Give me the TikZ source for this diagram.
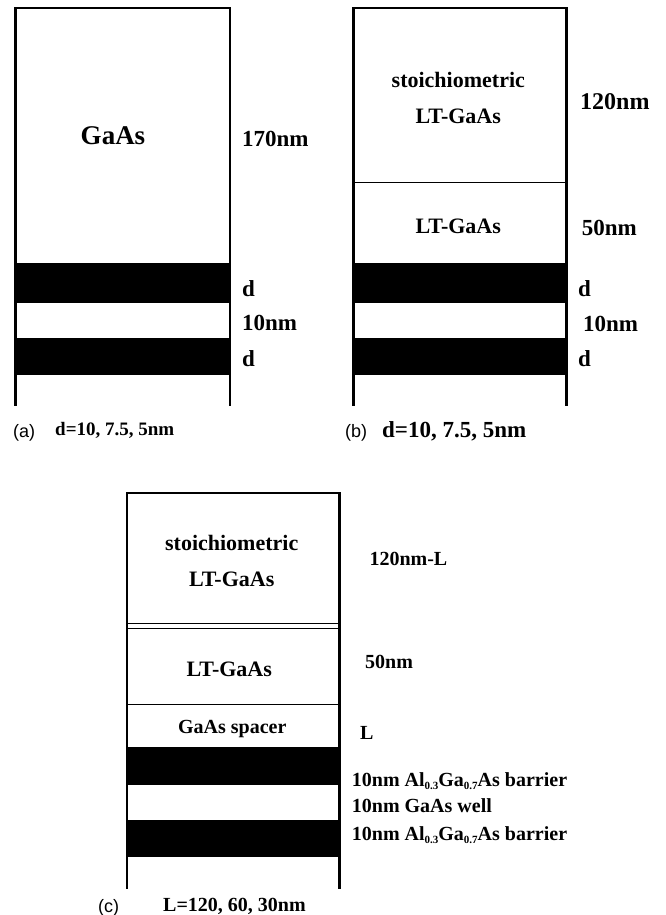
\documentclass[tikz,border=0pt]{standalone}
\usepackage{fontspec}
\setmainfont{Liberation Serif}
\newfontfamily\capsans{Liberation Sans}
\newcommand{\sbs}[1]{\raisebox{-0.35ex}{\fontsize{11}{11}\selectfont #1}}
\tikzset{
  wall/.style={line width=2.8pt, line cap=rect},
  sep/.style={line width=1.6pt},
  band/.style={fill=black},
  txt/.style={inner sep=0pt, font=\bfseries\fontsize{#1}{#1}\selectfont},
  ctr/.style={txt=#1, anchor=base},
  rgt/.style={txt=#1, anchor=base west},
  panelcap/.style={inner sep=0pt, anchor=base west, font=\capsans\fontsize{18}{18}\selectfont},
}
\begin{document}
\begin{tikzpicture}[x=1pt, y=-1pt]
\useasboundingbox (0,0) rectangle (665,915);

% ---------- (a) ----------
\fill[band] (15.7,263) rectangle (230,303);
\fill[band] (15.7,337.5) rectangle (230,375);
\draw[wall] (15.7,405) -- (15.7,8) -- (230,8) -- (230,405);
\node[ctr=27] (aGaAs) at (113,144) {GaAs};
\node[rgt=23] (a170) at (242,146.7) {170nm};
\node[rgt=23] (ad1) at (242,296.7) {d};
\node[rgt=23] (a10) at (242,330) {10nm};
\node[rgt=23] (ad2) at (242,366.7) {d};
\node[panelcap] (acap) at (13,437) {(a)};
\node[rgt=19] (aval) at (55,435.5) {d=10, 7.5, 5nm};

% ---------- (b) ----------
\fill[band] (353.5,263.3) rectangle (566.5,303.3);
\fill[band] (353.5,337.7) rectangle (566.5,375);
\draw[sep] (353.5,182.5) -- (566.5,182.5);
\draw[wall] (353.5,405) -- (353.5,8) -- (566.5,8) -- (566.5,405);
\node[ctr=22] (bst) at (458.3,87.3) {stoichiometric};
\node[ctr=22] (blt1) at (458.3,123.3) {LT-GaAs};
\node[rgt=24] (b120) at (580,110) {120nm};
\node[ctr=22] (blt2) at (458.3,233) {LT-GaAs};
\node[rgt=23] (b50) at (581.7,235) {50nm};
\node[rgt=23] (bd1) at (578,296.7) {d};
\node[rgt=23] (b10) at (583,331.7) {10nm};
\node[rgt=23] (bd2) at (578,366.7) {d};
\node[panelcap] (bcap) at (345,437) {(b)};
\node[rgt=23] (bval) at (382,437) {d=10, 7.5, 5nm};

% ---------- (c) ----------
\fill[band] (127,747) rectangle (339.5,785);
\fill[band] (127,820) rectangle (339.5,857);
\draw[sep] (127,623.5) -- (339.5,623.5);
\draw[sep] (127,628.3) -- (339.5,628.3);
\draw[sep] (127,704.5) -- (339.5,704.5);
\draw[wall] (127,888) -- (127,493) -- (339.5,493) -- (339.5,888);
\node[ctr=22] (cst) at (231.7,550) {stoichiometric};
\node[ctr=22] (clt1) at (231.7,586.7) {LT-GaAs};
\node[rgt=20] (c120) at (369.3,565) {120nm-L};
\node[ctr=22] (clt2) at (229.3,676.7) {LT-GaAs};
\node[rgt=20] (c50) at (365,668.3) {50nm};
\node[ctr=20] (csp) at (232.3,733.3) {GaAs spacer};
\node[rgt=20] (cL) at (360,739.3) {L};
\node[rgt=20] (cb1) at (351.7,786.7) {10nm Al\sbs{0.3}Ga\sbs{0.7}As barrier};
\node[rgt=20] (cw) at (351.7,812.7) {10nm GaAs well};
\node[rgt=20] (cb2) at (351.7,840) {10nm Al\sbs{0.3}Ga\sbs{0.7}As barrier};
\node[panelcap] (ccap) at (98,912.5) {(c)};
\node[rgt=20] (cval) at (163,911) {L=120, 60, 30nm};
\end{tikzpicture}
\end{document}
